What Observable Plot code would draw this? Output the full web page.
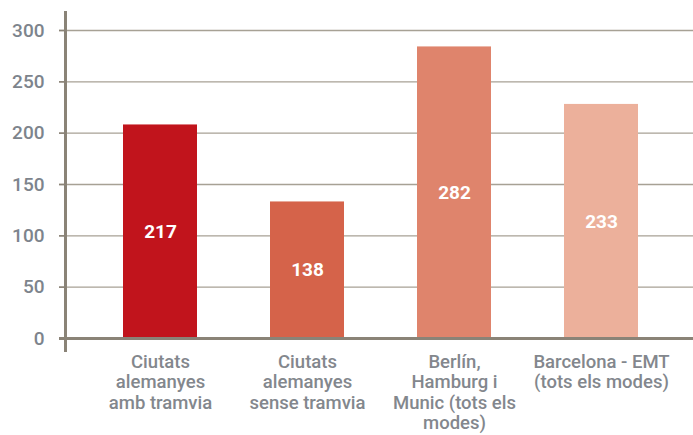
<!DOCTYPE html>
<html>
<head>
<meta charset="utf-8">
<script src="https://cdn.jsdelivr.net/npm/d3@7"></script>
<script src="https://cdn.jsdelivr.net/npm/@observablehq/plot@0.6"></script>
<style>
  html, body { margin: 0; padding: 0; background: #fff; }
  #chart svg { display: block; }
</style>
</head>
<body>
<div id="chart"></div>
<script>
const categories = [
  "Ciutats\nalemanyes\namb tramvia",
  "Ciutats\nalemanyes\nsense tramvia",
  "Berlín,\nHamburg i\nMunic (tots els\nmodes)",
  "Barcelona - EMT\n(tots els modes)"
];
const values = [208, 133, 284, 228];
const labels = ["217", "138", "282", "233"];
const colors = ["#c1141c", "#d5634a", "#df846c", "#ecb09b"];
const yTicks = [0, 50, 100, 150, 200, 250, 300];

const data = categories.map((c, i) => ({category: c, value: values[i], label: labels[i]}));

const font = "Roboto, 'Liberation Sans', Arial, sans-serif";
const axisColor = "#8a8377";

const chart = Plot.plot({
  width: 693,
  height: 435,
  marginLeft: 65,
  marginRight: 0,
  marginTop: 30,
  marginBottom: 97,
  style: {fontFamily: font, background: "#fff"},
  x: {domain: categories, range: [68, 693], paddingInner: 0.5, paddingOuter: 0.37, axis: null},
  y: {domain: [0, 300], axis: null},
  color: {domain: categories, range: colors},
  marks: [
    Plot.ruleY(yTicks.filter(d => d > 0), {stroke: "#a7a195", strokeWidth: 1.3, insetLeft: -6}),
    Plot.barY(data, {x: "category", y: "value", fill: "category"}),
    Plot.text(data, {x: "category", y: d => d.value / 2, text: "label", fill: "#fff", fontWeight: "bold", fontSize: 19}),
    Plot.ruleY([0], {stroke: axisColor, strokeWidth: 3, insetLeft: -6}),
    Plot.frame({anchor: "left", stroke: axisColor, strokeWidth: 3, insetTop: -18, insetBottom: -12}),
    Plot.axisY({ticks: yTicks, label: null, tickSize: 6, tickPadding: 15, fontSize: 19, fontWeight: 500, stroke: axisColor, fill: "#7d848c", strokeWidth: 1.5}),
    Plot.axisX({label: null, tickSize: 0, tickPadding: 15, fontSize: 18.5, fontWeight: 500, lineHeight: 1.1, fill: "#83878d"})
  ]
});

document.getElementById("chart").appendChild(chart);
</script>
</body>
</html>
